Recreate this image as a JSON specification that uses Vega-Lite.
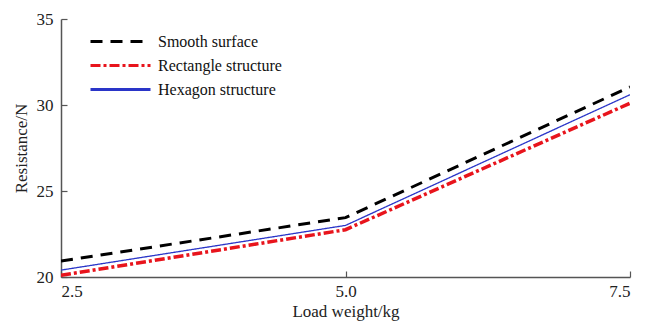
{
  "$schema": "https://vega.github.io/schema/vega-lite/v6.json",
  "autosize": {"type": "none"},
  "padding": {"left": 61, "top": 19, "right": 16, "bottom": 52},
  "width": 569,
  "height": 258,
  "background": "white",
  "config": {
    "view": {"stroke": null},
    "font": "Liberation Serif",
    "legend": {"labelFont": "Liberation Serif, serif", "labelFontSize": 16, "labelColor": "#111"},
    "axis": {"grid": false, "domainColor": "#555", "domainWidth": 1.5, "tickColor": "#555", "tickWidth": 1.2, "labelFont": "Liberation Serif", "titleFont": "Liberation Serif", "labelFontSize": 17, "titleFontSize": 17, "labelColor": "#222", "titleColor": "#222", "titleFontWeight": "normal"}
  },
  "data": {"values": [
    {"load": 2.5, "r": 20.93, "s": "Smooth surface"},
    {"load": 5.0, "r": 23.45, "s": "Smooth surface"},
    {"load": 7.5, "r": 31.05, "s": "Smooth surface"},
    {"load": 2.5, "r": 20.1, "s": "Rectangle structure"},
    {"load": 5.0, "r": 22.75, "s": "Rectangle structure"},
    {"load": 7.5, "r": 30.1, "s": "Rectangle structure"},
    {"load": 2.5, "r": 20.4, "s": "Hexagon structure"},
    {"load": 5.0, "r": 23.0, "s": "Hexagon structure"},
    {"load": 7.5, "r": 30.6, "s": "Hexagon structure"}
  ]},
  "encoding": {
    "x": {"field": "load", "type": "quantitative", "scale": {"domain": [2.5, 7.5], "nice": false}, "axis": {"values": [2.5, 5.0, 7.5], "format": ".1f", "title": "Load weight/kg", "tickSize": -6, "labelPadding": 12, "titlePadding": 4}},
    "y": {"field": "r", "type": "quantitative", "scale": {"domain": [20, 35], "nice": false}, "axis": {"values": [20, 25, 30, 35], "title": "Resistance/N", "tickSize": -6, "labelPadding": 14, "titlePadding": 6}},
    "color": {"field": "s", "type": "nominal", "sort": ["Smooth surface", "Rectangle structure", "Hexagon structure"], "scale": {"domain": ["Smooth surface", "Rectangle structure", "Hexagon structure"], "range": ["#000000", "#e8141c", "#2a35c8"]},
      "legend": {"title": null, "orient": "none", "legendX": 48, "legendY": 11, "symbolType": "M-3,0H3", "symbolSize": 400, "symbolStrokeWidth": 3, "rowPadding": 4, "labelOffset": 26, "labelFont": "Liberation Serif, serif", "labelFontSize": 16}},
    "strokeDash": {"field": "s", "type": "nominal", "sort": ["Smooth surface", "Rectangle structure", "Hexagon structure"], "scale": {"domain": ["Smooth surface", "Rectangle structure", "Hexagon structure"], "range": [[12, 8], [10, 3, 3, 3], [1, 0]]}}
  },
  "layer": [
    {"transform": [{"filter": "datum.s === 'Smooth surface'"}], "mark": {"type": "line", "clip": true, "strokeWidth": 3}},
    {"transform": [{"filter": "datum.s === 'Rectangle structure'"}], "mark": {"type": "line", "clip": true, "strokeWidth": 3.5}},
    {"transform": [{"filter": "datum.s === 'Hexagon structure'"}], "mark": {"type": "line", "clip": true, "strokeWidth": 1.3}}
  ]
}
